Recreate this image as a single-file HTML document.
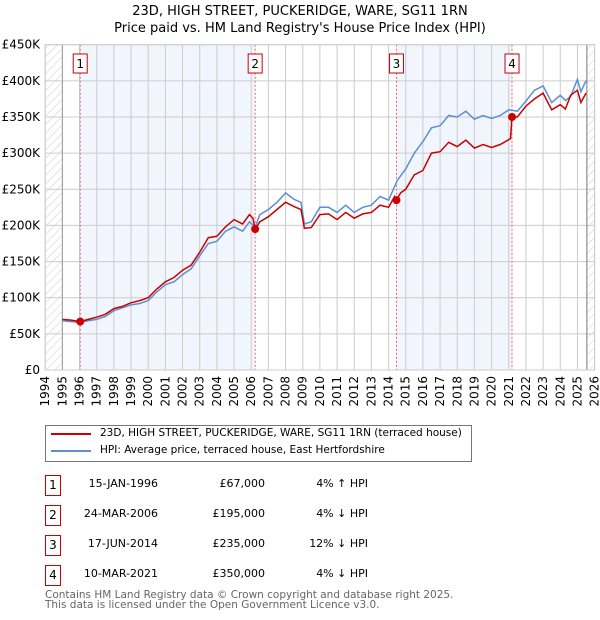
<!DOCTYPE html>
<html><head><meta charset="utf-8"><style>
body{margin:0;width:600px;height:620px;background:#fff;font-family:"DejaVu Sans","Liberation Sans",sans-serif;position:relative;overflow:hidden}
.t{position:absolute;white-space:nowrap;color:#000}
.badge{position:absolute;width:14px;height:19px;border:1px solid #c00;font-size:12px;text-align:center;line-height:19px;left:45px}
</style></head><body>
<div class="t" style="left:0;width:600px;text-align:center;top:3px;font-size:13px;line-height:17px">23D, HIGH STREET, PUCKERIDGE, WARE, SG11 1RN<br>Price paid vs. HM Land Registry's House Price Index (HPI)</div>
<svg id="chart" width="600" height="420" style="position:absolute;left:0;top:0" font-family="DejaVu Sans, Liberation Sans, sans-serif"></svg>
<div style="position:absolute;left:45px;top:425px;width:425px;height:35px;border:1px solid #777"></div>
<div style="position:absolute;left:51px;top:433px;width:40px;height:2px;background:#c00"></div>
<div class="t" style="left:100px;top:427px;font-size:10.5px">23D, HIGH STREET, PUCKERIDGE, WARE, SG11 1RN (terraced house)</div>
<div style="position:absolute;left:51px;top:450px;width:40px;height:2px;background:#5b8fd1"></div>
<div class="t" style="left:100px;top:444px;font-size:10.5px">HPI: Average price, terraced house, East Hertfordshire</div>
<div id="rows"></div>
<div class="t" style="left:45px;top:590px;font-size:10.5px;line-height:10px;color:#666">Contains HM Land Registry data © Crown copyright and database right 2025.<br>This data is licensed under the Open Government Licence v3.0.</div>
<script>
const yTicks=[0,50,100,150,200,250,300,350,400,450];
const yearTicks=[1994,1995,1996,1997,1998,1999,2000,2001,2002,2003,2004,2005,2006,2007,2008,2009,2010,2011,2012,2013,2014,2015,2016,2017,2018,2019,2020,2021,2022,2023,2024,2025,2026];
const hpiT=[1995,1995.5,1996,1996.5,1997,1997.5,1998,1998.5,1999,1999.5,2000,2000.5,2001,2001.5,2002,2002.5,2003,2003.5,2004,2004.5,2005,2005.5,2005.9,2006.23,2006.5,2007,2007.5,2008,2008.5,2008.9,2009.1,2009.5,2010,2010.5,2011,2011.5,2012,2012.5,2013,2013.5,2014,2014.5,2015,2015.5,2016,2016.5,2017,2017.5,2018,2018.5,2019,2019.5,2020,2020.5,2021,2021.5,2022,2022.5,2023,2023.5,2024,2024.3,2024.6,2025,2025.2,2025.5];
const hpiV=[68,67,66,68,70,74,82,86,90,92,96,108,118,122,132,140,158,175,178,192,198,192,205,198,215,222,232,245,236,232,202,205,225,225,218,228,218,225,228,240,235,262,278,300,316,335,338,352,350,358,347,352,348,352,360,358,372,387,393,370,380,373,378,402,385,400];
const redT=[1995,1995.5,1996.04,1996.5,1997,1997.5,1998,1998.5,1999,1999.5,2000,2000.5,2001,2001.5,2002,2002.5,2003,2003.5,2004,2004.5,2005,2005.5,2005.9,2006.1,2006.23,2006.5,2007,2007.5,2008,2008.5,2008.9,2009.1,2009.5,2010,2010.5,2011,2011.5,2012,2012.5,2013,2013.5,2014,2014.35,2014.46,2014.7,2015,2015.5,2016,2016.5,2017,2017.5,2018,2018.5,2019,2019.5,2020,2020.5,2021.1,2021.19,2021.5,2022,2022.5,2023,2023.5,2024,2024.3,2024.6,2025,2025.2,2025.5];
const redV=[70,69,67,70,73,77,85,88,93,96,100,112,122,128,138,145,163,183,185,198,208,202,215,210,195,205,212,222,232,226,222,196,197,215,216,208,218,210,216,218,228,225,240,235,245,250,270,276,300,302,315,309,318,307,312,308,312,320,350,350,365,375,383,360,367,361,380,387,370,383];
const saleT=[1996.04,2006.23,2014.46,2021.19];
const saleV=[67,195,235,350];
const saleLabels=["1","2","3","4"];
const saleDates=["15-JAN-1996","24-MAR-2006","17-JUN-2014","10-MAR-2021"];
const salePrices=["£67,000","£195,000","£235,000","£350,000"];
const saleHpi=["4% ↑ HPI","4% ↓ HPI","12% ↓ HPI","4% ↓ HPI"];
const X0=45.2,X1=594.6,Y0=370,Y1=44.7;
const x=t=>X0+(t-1994)*(X1-X0)/32;
const y=v=>Y0-(v/450)*(Y0-Y1);
const NS="http://www.w3.org/2000/svg";
const svg=document.getElementById('chart');
function mk(tag,attrs,parent){const e=document.createElementNS(NS,tag);for(const k in attrs)e.setAttribute(k,attrs[k]);(parent||svg).appendChild(e);return e;}
const defs=mk('defs',{});
const pat=mk('pattern',{id:'hatch',width:6,height:6,patternUnits:'userSpaceOnUse',patternTransform:'rotate(45)'},defs);
mk('line',{x1:0,y1:0,x2:0,y2:6,stroke:'#ccc','stroke-width':1},pat);
let r=mk('rect',{x:x(1994),y:Y1,width:x(1995)-x(1994),height:Y0-Y1,fill:'url(#hatch)'});

r=mk('rect',{x:x(2025.55),y:Y1,width:X1-x(2025.55),height:Y0-Y1,fill:'url(#hatch)'});

[[0,1],[2,3]].forEach(([a,b])=>{const s=mk('rect',{x:x(saleT[a]),y:Y1,width:x(saleT[b])-x(saleT[a]),height:Y0-Y1,fill:'#eef3fc',opacity:0.8});
});
yearTicks.forEach(t=>{const l=mk('line',{x1:x(t),x2:x(t),y1:Y1,y2:Y0,stroke:'#ccc'});

const tx=mk('text',{x:0,y:0,'font-size':12,'text-anchor':'end',transform:`translate(${x(t)+4},${Y0+6}) rotate(-90)`});tx.textContent=t;
});
yTicks.forEach(v=>{const l=mk('line',{x1:X0,x2:X1,y1:y(v),y2:y(v),stroke:'#ccc'});

const tx=mk('text',{x:40,y:y(v)+4,'font-size':12,'text-anchor':'end'});tx.textContent=v===0?'£0':'£'+v+'K';
});
mk('line',{x1:x(1995),x2:x(1995),y1:Y1,y2:Y0,stroke:'#999'});
mk('line',{x1:x(2025.55),x2:x(2025.55),y1:Y1,y2:Y0,stroke:'#777'});
saleT.forEach((t,i)=>{const l=mk('line',{x1:x(t),x2:x(t),y1:Y1,y2:Y0,stroke:'#e66','stroke-dasharray':'2,2'});

const b=mk('rect',{x:x(t)-7,y:54,width:14,height:19,fill:'#fff',stroke:'#c00'});

const tx=mk('text',{x:x(t),y:68,'font-size':12,'text-anchor':'middle'});tx.textContent=saleLabels[i];});
const path=(T,V)=>T.map((t,i)=>(i?'L':'M')+x(t).toFixed(1)+','+y(V[i]).toFixed(1)).join('');
let p=mk('path',{d:path(hpiT,hpiV),fill:'none',stroke:'#5b8fd1','stroke-width':1.5});

p=mk('path',{d:path(redT,redV),fill:'none',stroke:'#c00','stroke-width':1.5});

saleT.forEach((t,i)=>{const c=mk('circle',{cx:x(t),cy:y(saleV[i]),r:4,fill:'#c00'});
});
mk('rect',{x:X0,y:Y1,width:X1-X0,height:Y0-Y1,fill:'none',stroke:'#ccc'});
const rows=document.getElementById('rows');
saleT.forEach((t,i)=>{const top=475+i*30;
let d=document.createElement('div');d.className='badge';d.style.top=top+'px';d.textContent=saleLabels[i];
rows.appendChild(d);
[[saleDates[i],158,'table-date'],[salePrices[i],265,'table-price'],[saleHpi[i],368,'table-hpi']].forEach(([s,right,n])=>{
const e=document.createElement('div');e.className='t';e.style.cssText=`right:${600-right}px;top:${top+2}px;font-size:11px`;e.textContent=s;
rows.appendChild(e);});});
</script>
</body></html>
